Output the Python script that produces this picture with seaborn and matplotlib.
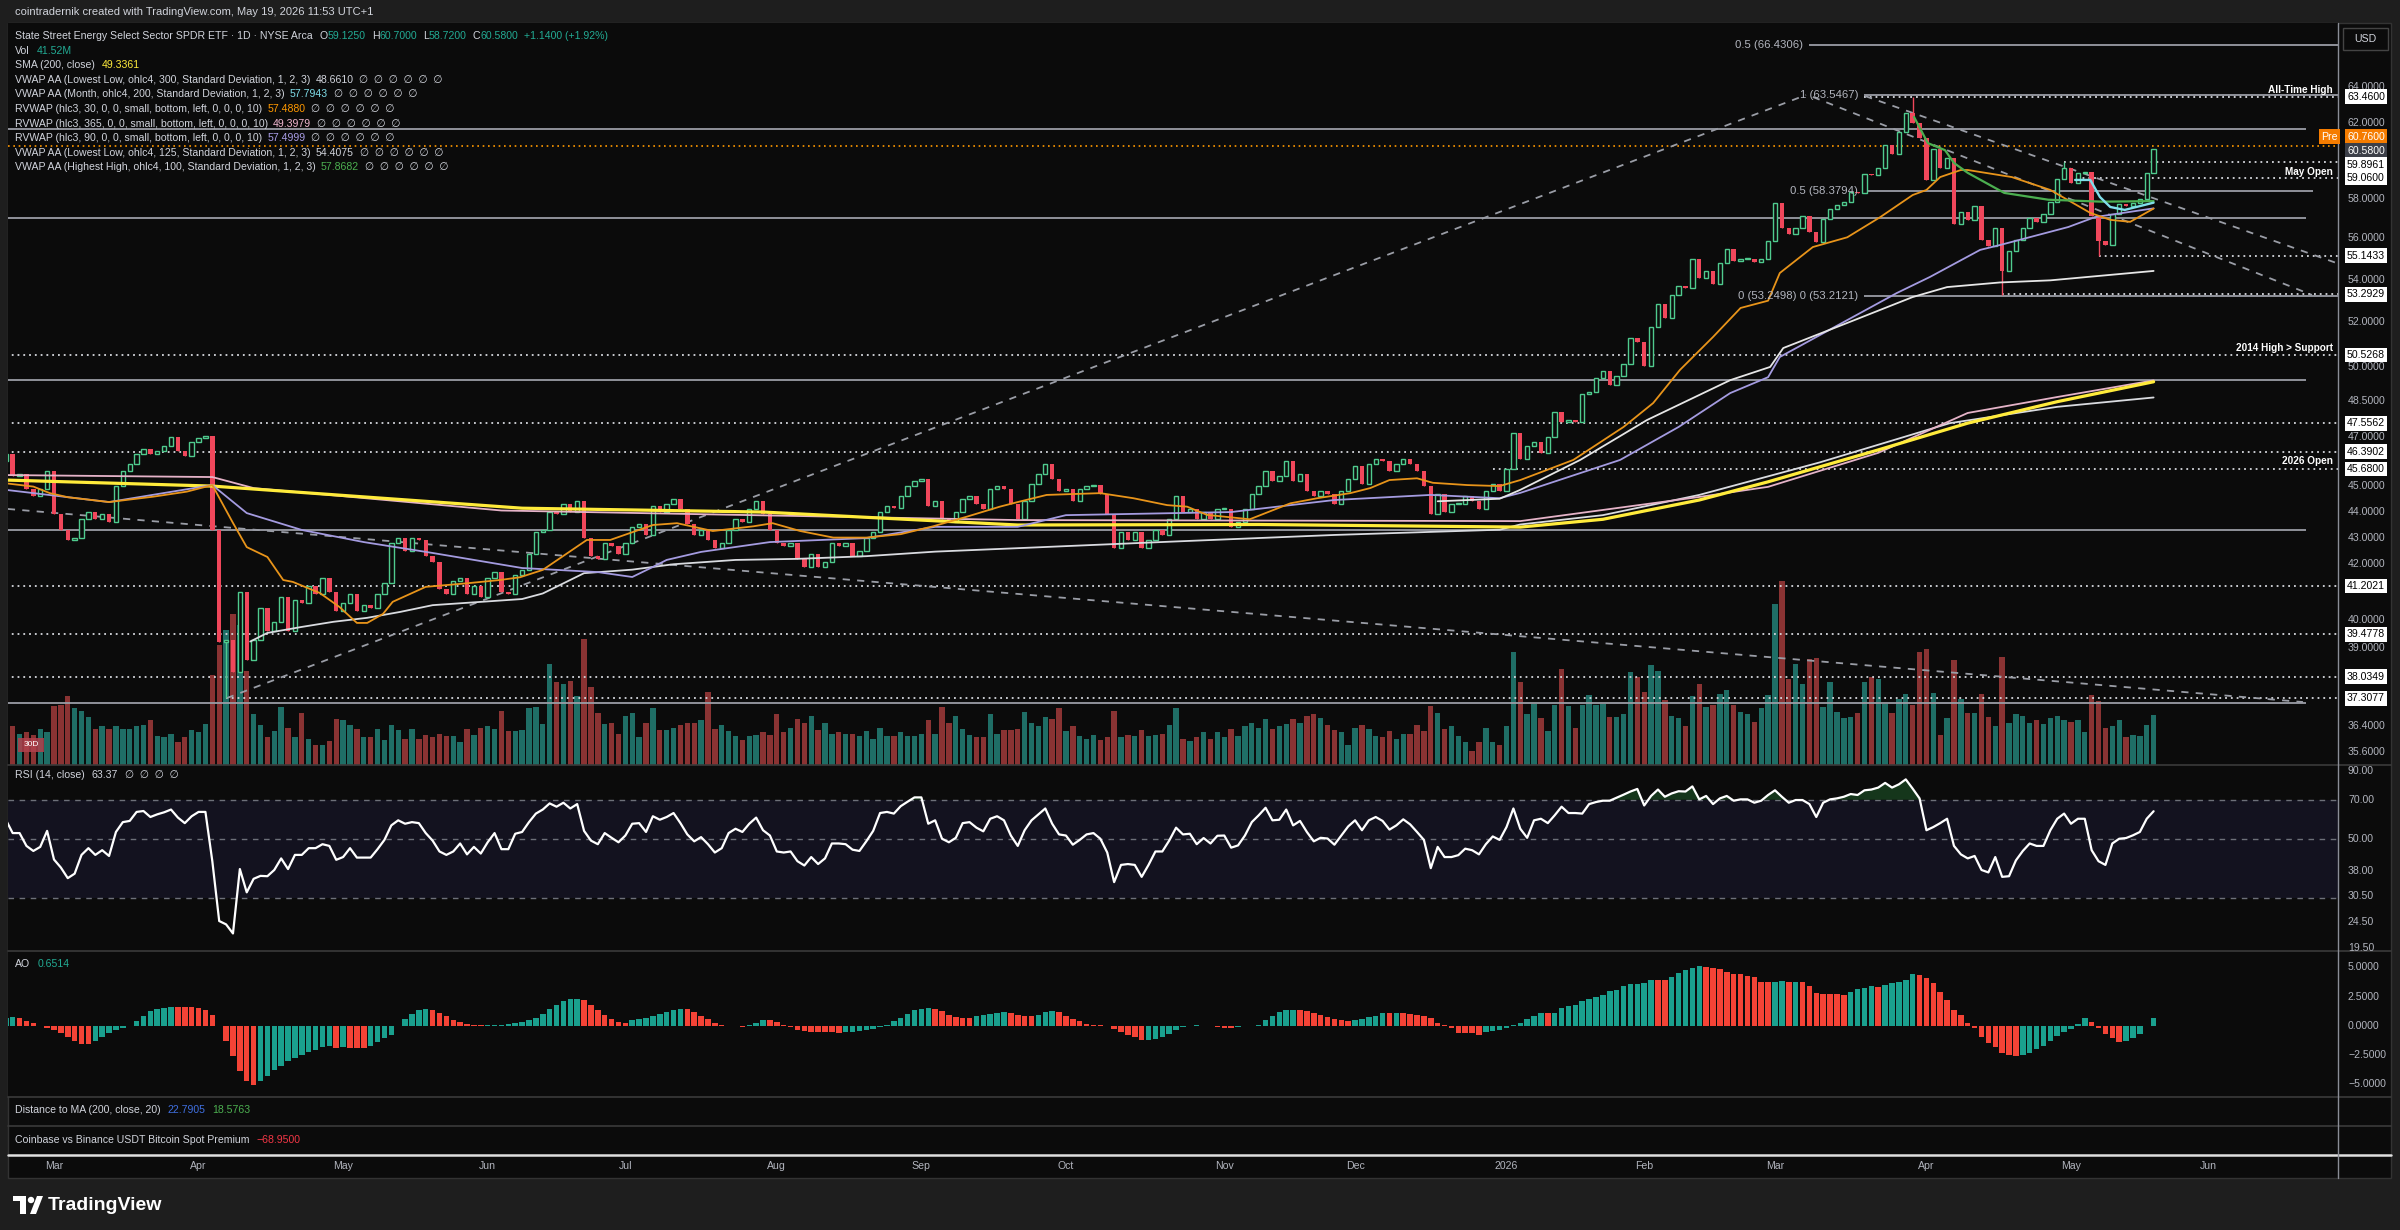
"""
XLE daily chart in the TradingView dark layout, rebuilt with seaborn + matplotlib.
"""
import matplotlib
matplotlib.use("Agg")
import matplotlib.pyplot as plt
import matplotlib.transforms as mtransforms
from matplotlib.lines import Line2D
from matplotlib.patches import Rectangle, Circle, Polygon
from matplotlib.ticker import NullLocator
import numpy as np
import pandas as pd
import seaborn as sns

# ---------------------------------------------------------------- data
# daily closes, one per session (Feb 20 2025 .. May 19 2026)
closes = [
    46.3, 45.4, 45.5, 44.9, 44.6, 44.9, 45.6, 43.9, 43.3, 42.9,
    43.0, 43.7, 44.0, 43.7, 43.9, 43.6, 45.0, 45.6, 45.9, 46.3,
    46.5, 46.3, 46.4, 46.6, 47.0, 46.4, 46.2, 46.8, 46.95, 47.05,
    43.3, 39.2, 39.3, 38.2, 41.0, 38.6, 39.3, 40.4, 39.6, 39.9,
    40.8, 39.6, 40.7, 40.6, 41.2, 40.9, 41.5, 41.0, 40.3, 40.6,
    40.9, 40.3, 40.5, 40.4, 40.9, 41.3, 42.8, 43.0, 42.5, 43.0,
    42.9, 42.3, 42.1, 41.1, 40.9, 41.4, 41.5, 40.9, 41.2, 40.8,
    41.5, 41.7, 41.0, 40.9, 41.6, 41.8, 42.4, 43.2, 43.3, 44.0,
    43.9, 44.3, 44.0, 44.4, 43.0, 42.3, 42.2, 42.8, 42.7, 42.4,
    42.8, 43.4, 43.5, 43.1, 44.2, 44.0, 44.3, 44.5, 44.1, 43.5,
    43.1, 43.3, 42.9, 42.6, 42.8, 43.3, 43.7, 43.6, 44.1, 44.4,
    43.9, 43.3, 42.8, 42.7, 42.8, 42.2, 41.9, 42.4, 41.9, 42.1,
    42.8, 42.7, 42.8, 42.3, 42.5, 43.0, 43.2, 44.0, 44.2, 44.15,
    44.6, 45.0, 45.2, 45.3, 44.2, 44.4, 43.7, 43.6, 44.0, 44.5,
    44.6, 44.3, 44.1, 44.9, 45.0, 44.9, 44.3, 43.7, 44.4, 45.1,
    45.5, 45.9, 45.3, 44.8, 44.9, 44.4, 44.9, 45.0, 45.05, 44.7,
    43.9, 42.6, 43.2, 42.9, 43.2, 42.6, 42.9, 43.3, 43.1, 43.7,
    44.6, 44.0, 44.1, 43.7, 44.0, 43.7, 44.1, 44.1, 43.4, 43.6,
    44.1, 44.7, 45.0, 45.6, 45.2, 45.4, 46.0, 45.2, 45.5, 44.8,
    44.6, 44.8, 44.7, 44.3, 44.8, 45.3, 45.8, 45.1, 45.9, 46.1,
    46.0, 45.6, 45.9, 46.1, 45.9, 45.6, 45.0, 43.9, 44.7, 44.0,
    44.3, 44.3, 44.6, 44.4, 44.1, 44.8, 45.1, 44.8, 45.7, 47.15,
    46.1, 46.6, 46.8, 46.35, 47.0, 48.05, 47.6, 47.7, 47.6, 48.8,
    48.9, 49.5, 49.8, 49.2, 49.6, 50.1, 51.3, 51.1, 50.05, 51.8,
    52.85, 52.2, 53.25, 53.7, 53.6, 55.0, 54.05, 54.4, 53.8, 54.8,
    55.45, 54.9, 55.0, 55.0, 54.85, 55.0, 55.87, 57.78, 56.52, 56.2,
    56.52, 57.12, 56.3, 55.8, 56.97, 57.47, 57.68, 57.83, 58.34, 58.3,
    59.25, 59.2, 59.6, 60.8, 60.3, 61.5, 62.55, 62.0, 61.2, 58.95,
    60.6, 59.6, 60.1, 56.7, 57.3, 56.9, 57.6, 55.9, 55.6, 56.5,
    54.4, 55.4, 55.9, 56.5, 57.0, 56.8, 57.2, 57.8, 59.0, 59.6,
    58.8, 59.3, 59.4, 57.1, 55.85, 55.65, 57.2, 57.7, 57.6, 57.75,
    58.0, 59.3, 60.58,
]
first_open = 46.0
wick_lows = {32: 37.31, 290: 53.29, 304: 55.14}
wick_highs = {277: 63.46, 299: 59.90, 303: 59.0}

# volume, millions
volumes = [
    30, 32, 26, 27, 25, 30, 27, 49, 50, 57,
    47, 45, 40, 30, 32, 30, 32, 30, 30, 32,
    33, 37, 24, 23, 26, 19, 23, 29, 27, 34,
    75, 100, 112, 125, 116, 78, 42, 33, 23, 28,
    48, 31, 23, 43, 22, 17, 17, 20, 38, 37,
    33, 30, 23, 23, 30, 21, 33, 29, 22, 30,
    22, 25, 23, 26, 24, 24, 19, 30, 25, 31,
    32, 30, 45, 28, 28, 29, 47, 48, 34, 84,
    69, 67, 70, 57, 105, 65, 43, 34, 35, 26,
    41, 43, 23, 35, 47, 29, 29, 31, 33, 35,
    35, 37, 61, 30, 33, 28, 24, 21, 24, 25,
    27, 25, 42, 27, 31, 38, 35, 41, 29, 35,
    26, 27, 26, 26, 24, 28, 22, 31, 24, 24,
    27, 24, 24, 26, 37, 26, 48, 35, 41, 30,
    25, 23, 23, 42, 26, 29, 29, 30, 44, 35,
    32, 40, 38, 47, 28, 32, 24, 22, 25, 21,
    23, 45, 23, 25, 24, 29, 24, 25, 26, 33,
    47, 22, 20, 23, 27, 22, 27, 23, 30, 24,
    32, 35, 31, 38, 30, 32, 34, 38, 35, 41,
    42, 39, 33, 29, 27, 17, 31, 33, 30, 24,
    23, 28, 22, 26, 26, 33, 28, 49, 43, 30,
    32, 24, 19, 12, 19, 31, 19, 17, 32, 94,
    69, 42, 51, 39, 28, 50, 80, 49, 31, 50,
    58, 50, 51, 40, 40, 42, 77, 73, 61, 83,
    78, 54, 41, 39, 32, 57, 67, 48, 50, 59,
    62, 50, 44, 42, 36, 47, 58, 134, 153, 71,
    84, 67, 88, 89, 48, 69, 44, 39, 40, 43,
    69, 73, 71, 51, 43, 55, 59, 50, 94, 96,
    60, 25, 39, 87, 55, 43, 43, 59, 40, 32,
    90, 35, 42, 41, 35, 37, 34, 39, 41, 37,
    36, 37, 27, 58, 53, 31, 32, 37, 23, 25,
    24, 33, 41.52,
]

rsi_values = [
    58.9, 52.5, 52.5, 47.0, 45.0, 46.6, 53.5, 41.8, 39.0, 35.6,
    37.0, 43.5, 46.1, 43.5, 45.3, 43.1, 53.0, 57.7, 58.3, 63.0,
    63.5, 60.3, 61.7, 62.8, 64.3, 60.0, 57.2, 60.7, 63.0, 63.0,
    41.2, 24.6, 23.9, 22.1, 38.5, 31.5, 35.4, 36.3, 36.2, 38.2,
    42.2, 38.5, 43.5, 43.5, 46.1, 46.1, 47.7, 47.0, 41.7, 42.7,
    46.1, 42.5, 42.5, 42.5, 45.7, 49.5, 56.1, 58.6, 56.9, 57.7,
    57.2, 52.5, 49.2, 44.8, 43.5, 44.8, 48.0, 43.7, 46.6, 44.0,
    48.5, 52.5, 45.7, 45.7, 52.2, 53.0, 57.7, 62.1, 64.3, 67.8,
    65.9, 68.2, 64.9, 67.4, 53.5, 49.2, 47.7, 52.5, 50.4, 48.5,
    51.4, 56.9, 57.2, 53.0, 60.7, 58.9, 60.3, 62.4, 57.2, 51.9,
    48.9, 50.7, 47.7, 44.4, 46.1, 52.5, 54.5, 53.0, 56.9, 60.0,
    53.8, 51.4, 44.8, 44.4, 44.8, 41.2, 39.7, 42.7, 40.2, 42.2,
    48.0, 48.0, 47.7, 45.5, 45.0, 48.9, 53.5, 62.4, 63.0, 62.1,
    66.2, 68.8, 71.4, 71.4, 56.9, 58.6, 50.0, 48.5, 50.4, 57.2,
    57.7, 55.0, 53.3, 59.4, 60.7, 58.6, 51.4, 47.0, 53.8, 58.6,
    61.7, 64.9, 56.9, 51.9, 51.4, 47.5, 49.5, 51.9, 52.5, 50.0,
    44.4, 34.4, 39.9, 40.2, 39.9, 36.0, 39.9, 44.8, 44.8, 49.2,
    55.0, 51.9, 52.2, 47.7, 50.3, 48.0, 51.3, 51.4, 46.3, 47.2,
    51.4, 57.7, 61.2, 65.3, 58.6, 58.9, 64.3, 56.1, 58.3, 53.0,
    48.9, 50.4, 50.1, 47.5, 51.4, 55.6, 58.6, 53.8, 58.6, 60.3,
    58.3, 54.1, 56.1, 59.1, 56.6, 53.0, 49.5, 38.8, 46.6, 42.7,
    42.7, 43.4, 45.9, 45.3, 43.7, 47.7, 51.0, 49.5, 55.3, 64.9,
    54.5, 50.4, 58.6, 59.4, 57.2, 61.2, 65.9, 62.4, 62.4, 62.1,
    67.4, 68.6, 69.4, 69.4, 71.2, 73.1, 75.1, 76.8, 66.6, 72.3,
    76.4, 71.8, 73.9, 75.3, 75.1, 78.5, 70.2, 72.3, 67.4, 70.8,
    72.3, 69.4, 70.2, 70.2, 68.2, 69.4, 72.9, 75.9, 71.8, 68.2,
    69.8, 69.8, 67.4, 60.3, 68.2, 70.2, 70.8, 71.8, 73.5, 72.9,
    75.9, 76.4, 77.7, 80.9, 77.7, 79.9, 83.4, 77.0, 70.8, 53.8,
    55.3, 57.2, 59.4, 47.0, 43.7, 42.2, 43.1, 38.2, 37.4, 42.7,
    36.0, 36.2, 41.5, 45.0, 48.0, 47.0, 47.0, 53.8, 59.4, 62.1,
    56.9, 59.4, 59.4, 45.3, 41.2, 39.9, 48.0, 50.0, 50.3, 51.5,
    53.0, 59.4, 63.37,
]

ao_values = [
    0.70, 0.74, 0.66, 0.43, 0.23, 0.02, -0.20, -0.40, -0.63, -0.97,
    -1.34, -1.54, -1.56, -1.34, -0.97, -0.63, -0.40, -0.20, 0.02, 0.37,
    0.86, 1.23, 1.43, 1.51, 1.62, 1.61, 1.60, 1.59, 1.51, 1.31,
    0.94, -0.05, -1.34, -2.63, -3.91, -4.77, -5.05, -4.77, -4.28, -3.77,
    -3.42, -3.05, -2.77, -2.48, -2.28, -2.05, -1.83, -1.71, -1.91, -1.83,
    -1.91, -1.93, -1.94, -1.71, -1.43, -1.06, -0.77, -0.06, 0.57, 1.03,
    1.37, 1.43, 1.31, 1.08, 0.80, 0.51, 0.29, 0.17, 0.09, 0.03,
    0.04, 0.06, 0.09, 0.14, 0.23, 0.34, 0.51, 0.66, 1.03, 1.43,
    1.80, 2.08, 2.28, 2.30, 2.17, 1.80, 1.37, 0.94, 0.57, 0.29,
    0.23, 0.46, 0.57, 0.66, 0.80, 1.03, 1.14, 1.31, 1.43, 1.42,
    1.14, 0.86, 0.57, 0.23, 0.06, -0.01, -0.06, -0.07, 0.09, 0.23,
    0.46, 0.45, 0.29, 0.09, -0.14, -0.40, -0.49, -0.50, -0.51, -0.52,
    -0.57, -0.63, -0.57, -0.56, -0.49, -0.40, -0.29, -0.11, 0.09, 0.37,
    0.66, 1.03, 1.31, 1.43, 1.51, 1.43, 1.23, 0.94, 0.74, 0.66,
    0.64, 0.80, 0.94, 1.03, 1.08, 1.14, 1.08, 0.94, 0.86, 0.80,
    0.94, 1.14, 1.23, 1.14, 0.86, 0.57, 0.37, 0.17, 0.09, 0.03,
    -0.06, -0.29, -0.57, -0.77, -0.97, -1.26, -1.20, -1.14, -0.97, -0.68,
    -0.40, -0.14, -0.06, 0.03, 0.01, -0.06, -0.14, -0.20, -0.22, -0.11,
    -0.06, -0.05, 0.03, 0.46, 0.86, 1.14, 1.31, 1.37, 1.31, 1.23,
    1.08, 0.94, 0.74, 0.57, 0.46, 0.37, 0.46, 0.57, 0.74, 0.86,
    1.08, 1.06, 1.10, 1.08, 1.04, 0.94, 0.86, 0.66, 0.23, 0.03,
    -0.20, -0.63, -0.65, -0.66, -0.77, -0.57, -0.49, -0.40, -0.20, 0.09,
    0.23, 0.57, 0.80, 1.08, 1.06, 1.10, 1.51, 1.71, 1.80, 2.08,
    2.28, 2.45, 2.65, 2.94, 3.08, 3.37, 3.55, 3.60, 3.65, 3.95,
    3.94, 3.93, 4.17, 4.51, 4.74, 4.94, 5.14, 5.05, 4.91, 4.82,
    4.62, 4.42, 4.41, 4.25, 4.20, 3.77, 3.76, 3.78, 3.80, 3.74,
    3.77, 3.76, 3.40, 2.83, 2.71, 2.69, 2.68, 2.63, 2.91, 3.11,
    3.20, 3.40, 3.34, 3.48, 3.68, 3.77, 3.91, 4.42, 4.34, 4.05,
    3.62, 2.91, 2.20, 1.34, 0.91, 0.26, -0.23, -1.00, -1.46, -1.80,
    -2.31, -2.51, -2.60, -2.51, -2.31, -2.03, -1.74, -1.28, -0.88, -0.51,
    -0.31, 0.14, 0.63, 0.34, -0.23, -0.71, -1.08, -1.37, -1.28, -1.05,
    -0.71, -0.03, 0.6514,
]

holidays = ["2025-04-18", "2025-05-26", "2025-06-19", "2025-07-04", "2025-09-01",
            "2025-11-27", "2025-12-25", "2026-01-01", "2026-01-19", "2026-02-16",
            "2026-04-03", "2026-05-25"]

# indicator lines: (bar, price)
sma200_line = [(0, 45.24), (30, 45.0), (75, 44.13), (110, 43.98), (147, 43.48), (182, 43.5),
               (220, 43.4), (232, 43.7), (246, 44.45), (256, 45.17), (272, 46.46),
               (285, 47.57), (298, 48.48), (312, 49.34)]
rvwap365_line = [(0, 45.44), (30, 45.36), (36, 44.92), (72, 44.04), (147, 43.67), (220, 43.63),
                 (246, 44.57), (256, 44.97), (272, 46.34), (285, 48.0), (298, 48.68), (312, 49.40)]
rvwap90_line = [(0, 44.85), (15, 44.37), (30, 45.04), (35, 43.94), (43, 43.29), (52, 42.83),
                (62, 42.42), (75, 41.86), (86, 41.71), (91, 41.53), (94, 41.9), (96, 42.16),
                (101, 42.46), (111, 42.83), (125, 42.98), (135, 43.41), (147, 43.41), (154, 43.86),
                (178, 43.98), (193, 44.45), (207, 44.65), (217, 44.52), (220, 44.73), (234.5, 46.05),
                (243, 47.41), (250.5, 48.85), (256, 49.54), (257.7, 50.43), (267.5, 52.1),
                (274.7, 53.36), (279.5, 54.12), (286.8, 55.43), (289.7, 55.67), (299.6, 56.56),
                (303.5, 57.06), (312, 57.50)]
vwap300_line = [(35.5, 39.23), (38, 39.53), (43, 39.74), (47.6, 39.92), (52.5, 40.06), (57.3, 40.27),
                (62, 40.51), (75, 40.73), (78, 40.93), (84, 41.67), (91, 41.8), (97, 42.0),
                (106, 42.16), (115, 42.2), (125, 42.3), (135, 42.47), (147, 42.6), (168.7, 42.84),
                (193, 43.1), (217, 43.3), (220, 43.5), (232, 43.86), (246, 44.65), (263.5, 45.95),
                (282.4, 47.57), (298, 48.26), (312, 48.66)]
vwap125_line = [(208, 44.4), (217, 44.5), (220, 44.85), (228.7, 46.05), (238.4, 47.7), (250.5, 49.41),
                (256.3, 49.99), (258.2, 50.83), (267.5, 51.97), (277, 53.17), (282, 53.64),
                (289.7, 53.86), (297, 53.96), (312, 54.41)]
rvwap30_line = [(0, 45.11), (4, 44.98), (6.4, 44.72), (9, 44.56), (15, 44.37), (21.4, 44.58),
                (26.3, 44.78), (30, 45.04), (33, 43.56), (35, 42.64), (38, 42.27), (40.3, 41.42),
                (41.7, 41.35), (45.6, 40.95), (48.5, 40.44), (51, 39.88), (52.5, 39.88), (54.8, 40.2),
                (56.2, 40.63), (61, 41.17), (67, 41.3), (71.8, 41.42), (74.7, 41.52), (78, 41.79),
                (84.4, 42.91), (87.8, 42.91), (94, 43.48), (97.5, 43.55), (102.7, 43.25),
                (108.6, 43.43), (111.4, 43.55), (115.4, 43.25), (120.2, 43.0), (125, 43.0),
                (130, 43.13), (134.7, 43.43), (139.6, 43.8), (144.4, 44.19), (147.3, 44.39),
                (151.2, 44.65), (159, 44.72), (163.8, 44.52), (168.7, 44.25), (171.6, 44.19),
                (174.5, 43.87), (180.7, 43.7), (186.6, 44.32), (190.5, 44.52), (195.3, 44.72),
                (198.2, 44.92), (201, 45.24), (205, 45.31), (207.3, 45.13), (212.3, 45.04),
                (217, 45.0), (220, 45.24), (227.7, 46.05), (235, 47.41), (239.3, 48.42),
                (243.2, 49.86), (248, 51.33), (252, 52.66), (256, 53.0), (257.7, 54.31),
                (262.5, 55.57), (267.5, 56.05), (272.3, 57.06), (277, 58.18), (279, 58.44),
                (281, 59.11), (284, 59.48), (285, 59.48), (291.4, 59.11), (297, 58.44),
                (302.8, 57.27), (305.7, 56.92), (308.6, 56.82), (312, 57.49)]
vwap_hh_line = [(277.2, 62.33), (279.2, 60.91), (281.7, 60.53), (283, 59.85), (285, 59.33),
                (290.3, 58.29), (296.7, 57.94), (304.5, 57.84), (312, 57.87)]
vwap_month_line = [(300.6, 58.96), (302.8, 58.96), (304.2, 58.08), (305.7, 57.57),
                   (307.8, 57.42), (312, 57.79)]

# drawings: (price, first bar, last bar or None = to the right edge)
solid_levels = [(61.65, 0, 334.2), (57.0, 0, 334.2), (49.4, 0, 334.2), (43.28, 0, 334.2),
                (37.16, 0, 334.2)]
fib_levels = [(66.4306, 262, None), (63.5467, 270, None), (58.3794, 270, 335.2), (53.2121, 270, None)]
dotted_levels = [(63.46, 270, None), (59.8961, 299, None), (59.06, 300, None), (55.1433, 304, None),
                 (53.2929, 290, None), (50.5268, 0, None), (47.5562, 0, None), (46.3902, 0, None),
                 (45.68, 216, None), (41.2021, 0, None), (39.4778, 0, None), (38.0349, 0, None),
                 (37.3077, 32, None)]
premarket_level = 60.76
last_close_text = "60.5800"
trend_lines = [((32.1, 37.32), (261.5, 63.55)),
               ((0.3, 44.1), (333.7, 37.19)),
               ((262.5, 63.44), (335.0, 53.27)),
               ((270.1, 63.49), (338.5, 54.8))]

price_ticks = [64, 62, 58, 56, 54, 52, 50, 48.5, 47, 45, 44, 43, 42, 40, 39, 36.4, 35.6]
boxed_levels = [63.46, 59.06, 55.1433, 53.2929, 50.5268, 47.5562, 46.3902, 45.68,
                41.2021, 39.4778, 38.0349, 37.3077]
stacked_level = 59.8961
rsi_ticks = [90, 70, 50, 38, 30.5, 24.5, 19.5]
ao_ticks = [5, 2.5, 0, -2.5, -5]

# ---------------------------------------------------------------- layout
W, H, DPI = 2400, 1230, 100
PLOT_L, PLOT_R, FRAME_R = 8, 2338, 2391
BAR0_PX, BAR_PX = 5.8, 6.884
XMIN = (PLOT_L - BAR0_PX) / BAR_PX
XMAX = (PLOT_R - BAR0_PX) / BAR_PX
PRICE_Y, RSI_Y, AO_Y = (23, 765), (765, 951), (951, 1097)
PRICE_LIM, RSI_LIM, AO_LIM, VOL_MAX = (35.18, 67.72), (19.0, 94.4), (-6.1, 6.4), 616

OUTER, BG = "#1e1e1e", "#0b0b0b"
TXT, AXIS_TXT = "#d1d4dc", "#b2b5be"
UP, DOWN = "#4fcb8e", "#f0475b"
VOL_UP, VOL_DN = "#1f6e66", "#8a3333"
AO_UP, AO_DN = "#1aa08e", "#f44336"
VAL_GREEN = "#22ab94"
FS = 7.6

sns.set_theme(style="dark", rc={"axes.facecolor": BG, "figure.facecolor": OUTER,
                                 "axes.edgecolor": BG, "grid.color": BG})
plt.rcParams["font.family"] = ["Liberation Sans Narrow", "Liberation Sans", "DejaVu Sans"]

assert len(closes) == len(volumes) == len(rsi_values) == len(ao_values), \
    (len(closes), len(volumes), len(rsi_values), len(ao_values))

n = len(closes)
x = np.arange(n)
c = np.array(closes, dtype=float)
o = np.r_[first_open, c[:-1]]
up = c >= o
hi = np.maximum(o, c)
lo = np.minimum(o, c)
for k, v in wick_highs.items():
    hi[k] = v
for k, v in wick_lows.items():
    lo[k] = v

days = pd.bdate_range("2025-02-20", "2026-06-30")
days = days[~days.isin(pd.to_datetime(holidays))]

fig = plt.figure(figsize=(W / DPI, H / DPI), dpi=DPI)
PX = mtransforms.Affine2D().scale(1 / W, -1 / H).translate(0, 1) + fig.transFigure


def rect(x0, y0, x1, y1):
    return [x0 / W, 1 - y1 / H, (x1 - x0) / W, (y1 - y0) / H]


def clean(a):
    a.set_xlim(XMIN, XMAX)
    a.xaxis.set_major_locator(NullLocator())
    a.xaxis.set_minor_locator(NullLocator())
    a.yaxis.set_major_locator(NullLocator())
    a.yaxis.set_minor_locator(NullLocator())
    a.set_xlabel("")
    a.set_ylabel("")
    a.grid(False)
    for s in a.spines.values():
        s.set_visible(False)


def put_parts(x0, y0, parts, size=FS):
    renderer = fig.canvas.get_renderer()
    for text, color, gap in parts:
        t = fig.text(x0, y0, text, color=color, fontsize=size, transform=PX,
                     ha="left", va="center", zorder=10)
        x0 = t.get_window_extent(renderer=renderer).x1 + gap


def axis_box(y, text, fc, tc, transform, x0=2347):
    fig.text(x0, y, text, transform=transform, color=tc, fontsize=FS, va="center", zorder=12,
             bbox=dict(boxstyle="square,pad=0.22", fc=fc, ec="none"))


# chart frame (behind the axes)
fig.patches.append(Rectangle((PLOT_L, 23), FRAME_R - PLOT_L, 1155, transform=PX,
                             facecolor=BG, edgecolor="#333333", lw=1, zorder=-5))

# ---------------------------------------------------------------- price pane
axv = fig.add_axes(rect(PLOT_L, PRICE_Y[0], PLOT_R, PRICE_Y[1]), label="volume")
axv.bar(x, volumes, width=0.78, color=np.where(up, VOL_UP, VOL_DN), linewidth=0)
axv.set_ylim(0, VOL_MAX)
clean(axv)

ax = fig.add_axes(rect(PLOT_L, PRICE_Y[0], PLOT_R, PRICE_Y[1]), label="price")
ax.patch.set_alpha(0)
ax.set_yscale("log")

for val, b0, b1 in solid_levels:
    ax.hlines(val, b0, b1, colors="#9a9da6", lw=1.3, zorder=1)
for val, b0, b1 in fib_levels:
    ax.hlines(val, b0, XMAX if b1 is None else b1, colors="#9a9da6", lw=1.3, zorder=1)
for val, b0, b1 in dotted_levels:
    ax.hlines(val, b0, XMAX if b1 is None else b1, colors="#d6d8de", lw=1.3,
              linestyles=(0, (1, 2.2)), zorder=1)
ax.hlines(premarket_level, XMIN, XMAX, colors="#ff9800", lw=1.2, linestyles=(0, (1, 2.2)), zorder=1)
for (b0, p0), (b1, p1) in trend_lines:
    ax.plot([b0, b1], [p0, p1], color="#9a9da6", lw=1.3, ls=(0, (4, 4)), zorder=2)

# candles
ax.vlines(x, lo, hi, colors=np.where(up, UP, DOWN), lw=1.0, zorder=3)
body = np.maximum(np.abs(c - o), 0.05)
ax.bar(x[up], body[up], bottom=np.minimum(o, c)[up], width=0.64, facecolor=BG,
       edgecolor=UP, linewidth=1.0, zorder=4)
ax.bar(x[~up], body[~up], bottom=np.minimum(o, c)[~up], width=0.64, color=DOWN,
       linewidth=0, zorder=4)

line_styles = [
    (vwap300_line, "#d9dbe0", 1.3), (rvwap365_line, "#e5b3c8", 1.3),
    (sma200_line, "#ffeb3b", 2.3), (rvwap90_line, "#a49be0", 1.3),
    (vwap125_line, "#e6e6e6", 1.3), (rvwap30_line, "#e8941a", 1.3),
    (vwap_hh_line, "#4caf50", 1.6), (vwap_month_line, "#80deea", 1.7),
]
for pts, color, lw in line_styles:
    df = pd.DataFrame(pts, columns=["bar", "price"])
    sns.lineplot(data=df, x="bar", y="price", ax=ax, color=color, linewidth=lw,
                 estimator=None, sort=False, zorder=5)

ax.set_ylim(*PRICE_LIM)
clean(ax)

# ---------------------------------------------------------------- RSI pane
axr = fig.add_axes(rect(PLOT_L, RSI_Y[0], PLOT_R, RSI_Y[1]), label="rsi")
axr.set_yscale("log")
axr.axhspan(30, 70, color="#13121f", lw=0, zorder=0)
for lvl in (70, 50, 30):
    axr.axhline(lvl, color="#6d7079", lw=1.0, ls=(0, (4, 4)), zorder=1)
rsi = np.array(rsi_values)
axr.fill_between(x, rsi, 70, where=rsi > 70, interpolate=True, color="#1f5a2a", alpha=0.55, lw=0)
sns.lineplot(x=x, y=rsi, ax=axr, color="white", linewidth=1.6, estimator=None, sort=False, zorder=3)
axr.set_ylim(*RSI_LIM)
clean(axr)

# ---------------------------------------------------------------- AO pane
axa = fig.add_axes(rect(PLOT_L, AO_Y[0], PLOT_R, AO_Y[1]), label="ao")
ao = np.array(ao_values)
rising = np.r_[True, ao[1:] >= ao[:-1]]
axa.bar(x, ao, width=0.8, color=np.where(rising, AO_UP, AO_DN), linewidth=0)
axa.set_ylim(*AO_LIM)
clean(axa)

# ---------------------------------------------------------------- separators
for y0 in (765, 951, 1097, 1126):
    fig.add_artist(Line2D([PLOT_L, FRAME_R], [y0, y0], transform=PX, color="#3a3a3a", lw=1.2))
fig.add_artist(Line2D([PLOT_L, FRAME_R], [1155, 1155], transform=PX, color="#e0e0e0", lw=1.8))
fig.add_artist(Line2D([PLOT_R, PLOT_R], [23, 1178], transform=PX, color="#8a8d96", lw=1.0))

# ---------------------------------------------------------------- right axis labels
yt_price = mtransforms.blended_transform_factory(PX, ax.transData)
for v in price_ticks:
    fig.text(2348, v, f"{v:.4f}", transform=yt_price, color=AXIS_TXT, fontsize=FS, va="center")
for v in boxed_levels:
    axis_box(v, f"{v:.4f}", "white", "black", yt_price)
# labels near the last price are stacked on the axis, as TradingView does
axis_box(136.5, f"{premarket_level:.4f}", "#f57c00", "white", PX)
axis_box(136.5, "Pre", "#f57c00", "white", PX, x0=2321)
axis_box(150.5, last_close_text, "#3c3f48", "white", PX)
axis_box(164.5, f"{stacked_level:.4f}", "white", "black", PX)

yt_rsi = mtransforms.blended_transform_factory(PX, axr.transData)
for v in rsi_ticks:
    fig.text(2348, v, f"{v:.2f}", transform=yt_rsi, color=AXIS_TXT, fontsize=FS, va="center")
yt_ao = mtransforms.blended_transform_factory(PX, axa.transData)
for v in ao_ticks:
    fig.text(2348, v, f"{v:.4f}".replace("-", "\u2212"), transform=yt_ao, color=AXIS_TXT,
             fontsize=FS, va="center")

# USD box
fig.patches.append(Rectangle((2343, 28), 45, 22, transform=PX, facecolor=BG,
                             edgecolor="#444444", lw=1, zorder=5))
fig.text(2365, 39, "USD", transform=PX, color=TXT, fontsize=FS, ha="center", va="center",
         zorder=12)

# chart annotations
for label, price in [("All-Time High", 63.83), ("May Open", 59.40),
                     ("2014 High > Support", 50.85), ("2026 Open", 45.99)]:
    fig.text(2333, price, label, transform=yt_price, color="white", fontsize=7.2,
             fontweight="bold", ha="right", va="center")
for label, right, price in [("0.5 (66.4306)", 1803, 66.4306), ("1 (63.5467)", 1858, 63.5467),
                            ("0.5 (58.3794)", 1858, 58.3794),
                            ("0 (53.2498) 0 (53.2121)", 1858, 53.2121)]:
    fig.text(right, price, label, transform=yt_price, color=AXIS_TXT, fontsize=8.2,
             ha="right", va="center")

# 30D badge
fig.patches.append(Rectangle((18, 738), 26, 14, transform=PX, facecolor="#b2404c",
                             edgecolor="none", alpha=0.85, zorder=5))
fig.text(31, 745, "30D", transform=PX, color="white", fontsize=6, ha="center", va="center",
         zorder=12)

# ---------------------------------------------------------------- time axis
xt = mtransforms.blended_transform_factory(ax.transData, PX)
month_first = [i for i in range(1, len(days)) if days[i].month != days[i - 1].month]
for i in month_first:
    if i > XMAX:
        break
    d = days[i]
    label = str(d.year) if d.month == 1 else d.strftime("%b")
    fig.text(i, 1166, label, transform=xt, color=AXIS_TXT, fontsize=FS, ha="center", va="center")

# ---------------------------------------------------------------- legends / header
fig.text(15, 12, "cointradernik created with TradingView.com, May 19, 2026 11:53 UTC+1",
         transform=PX, color=TXT, fontsize=8, va="center")

nulls = "\u2205  \u2205  \u2205  \u2205  \u2205  \u2205"
legend_rows = [
    [("State Street Energy Select Sector SPDR ETF \u00b7 1D \u00b7 NYSE Arca", TXT, 7),
     ("O", TXT, 0), ("59.1250", VAL_GREEN, 6), ("H", TXT, 0), ("60.7000", VAL_GREEN, 6),
     ("L", TXT, 0), ("58.7200", VAL_GREEN, 6), ("C", TXT, 0), ("60.5800", VAL_GREEN, 6),
     ("+1.1400 (+1.92%)", VAL_GREEN, 0)],
    [("Vol", TXT, 7), ("41.52M", VAL_GREEN, 0)],
    [("SMA (200, close)", TXT, 7), ("49.3361", "#ffeb3b", 0)],
    [("VWAP AA (Lowest Low, ohlc4, 300, Standard Deviation, 1, 2, 3)", TXT, 5),
     ("48.6610", TXT, 6), (nulls, TXT, 0)],
    [("VWAP AA (Month, ohlc4, 200, Standard Deviation, 1, 2, 3)", TXT, 5),
     ("57.7943", "#80deea", 6), (nulls, TXT, 0)],
    [("RVWAP (hlc3, 30, 0, 0, small, bottom, left, 0, 0, 0, 10)", TXT, 5),
     ("57.4880", "#ff9800", 6), (nulls, TXT, 0)],
    [("RVWAP (hlc3, 365, 0, 0, small, bottom, left, 0, 0, 0, 10)", TXT, 5),
     ("49.3979", "#f1b7d0", 6), (nulls, TXT, 0)],
    [("RVWAP (hlc3, 90, 0, 0, small, bottom, left, 0, 0, 0, 10)", TXT, 5),
     ("57.4999", "#a99de6", 6), (nulls, TXT, 0)],
    [("VWAP AA (Lowest Low, ohlc4, 125, Standard Deviation, 1, 2, 3)", TXT, 5),
     ("54.4075", TXT, 6), (nulls, TXT, 0)],
    [("VWAP AA (Highest High, ohlc4, 100, Standard Deviation, 1, 2, 3)", TXT, 5),
     ("57.8682", "#4caf50", 6), (nulls, TXT, 0)],
]
for k, row in enumerate(legend_rows):
    put_parts(15, 36 + 14.6 * k, row)

put_parts(15, 775, [("RSI (14, close)", TXT, 7), ("63.37", TXT, 7),
                    ("\u2205  \u2205  \u2205  \u2205", TXT, 0)])
put_parts(15, 964, [("AO", TXT, 7), ("0.6514", VAL_GREEN, 0)])
put_parts(15, 1110, [("Distance to MA (200, close, 20)", TXT, 7), ("22.7905", "#3f6fe0", 7),
                     ("18.5763", "#4caf50", 0)])
put_parts(15, 1140, [("Coinbase vs Binance USDT Bitcoin Spot Premium", TXT, 7),
                     ("\u221268.9500", "#f23645", 0)])

# ---------------------------------------------------------------- footer logo
fig.patches.append(Rectangle((13, 1196), 13, 5, transform=PX, facecolor="white", edgecolor="none"))
fig.patches.append(Rectangle((20, 1196), 6, 18, transform=PX, facecolor="white", edgecolor="none"))
fig.patches.append(Circle((31, 1200), 3.2, transform=PX, facecolor="white", edgecolor="none"))
fig.patches.append(Polygon([(30, 1214), (37, 1196), (43, 1196), (36, 1214)], closed=True,
                           transform=PX, facecolor="white", edgecolor="none"))
fig.text(48, 1205, "TradingView", transform=PX, color="white", fontsize=14,
         fontweight="bold", va="center")

fig.savefig("out.png", dpi=DPI, facecolor=OUTER)
